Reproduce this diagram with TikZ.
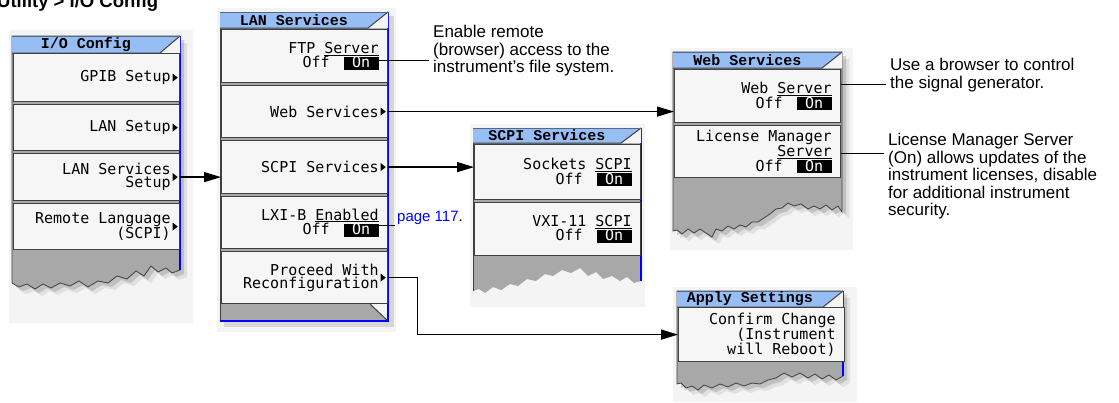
\documentclass[tikz,border=0pt]{standalone}
\usepackage{fontspec}
\usepackage{xcolor}
\usetikzlibrary{arrows.meta,calc}

\newfontfamily\notefont{Liberation Sans}
\newfontfamily\keyfont{DejaVu Sans Mono}
\newfontfamily\barfont{Liberation Mono}

\definecolor{barblue}{RGB}{150,190,245}
\definecolor{bodygrey}{RGB}{168,168,168}
\definecolor{keyfill}{RGB}{246,246,246}
\definecolor{keyedge}{RGB}{64,64,64}
\definecolor{bglight}{RGB}{244,244,244}
\definecolor{edgeblue}{RGB}{0,0,255}
\definecolor{linkblue}{RGB}{0,0,255}

\lineskiplimit=-20pt

\newcommand{\onsw}{{\setlength{\fboxsep}{0pt}\colorbox{black}{\makebox[35pt]{\rule[-2pt]{0pt}{13pt}\textcolor{white}{On}}}}}

\newcommand{\menubar}[6]{%
    \fill[barblue] (#2,#3) -- (#4,#3) -- (#4-20,#5) -- (#2,#5) -- cycle;
    \fill[bglight] (#4,#3) -- (#4,#5) -- (#4-20,#5) -- cycle;
    \draw[keyedge, line width=1pt] (#2,#5) -- (#4-20,#5) -- (#4,#3);
    \draw[barblue!55!black, line width=1pt] (#2,#3) -- (#4,#3);
    \node[bartext] (#1) at ({(#2+#4-20)/2},{(#3+#5)/2}) {#6};
}

\tikzset{
    keybox/.style={draw=keyedge, line width=1.2pt, fill=keyfill, anchor=north west,
        text width=148pt, inner xsep=9pt, inner ysep=0pt, align=right,
        font=\keyfont\fontsize{15}{13}\selectfont,
        execute at begin node={\spaceskip=9.03pt\relax}},
    bartext/.style={font=\barfont\bfseries\fontsize{15}{15}\selectfont, inner sep=0pt},
    note/.style={font=\notefont\fontsize{17}{17.5}\selectfont, align=left,
        anchor=north west, inner xsep=4pt, inner ysep=0pt},
    link/.style={line width=1.4pt, -{Triangle[length=17pt,width=10pt]}},
    leader/.style={line width=1.4pt},
    blueedge/.style={draw=edgeblue, line width=2pt},
}

\begin{document}
\begin{tikzpicture}[x=1pt, y=-1pt]
    \useasboundingbox (0,0) rectangle (1119,402);

    \foreach \a/\b/\c/\d in {9/30/193/323, 217/8/396/332, 470/124/645/307, 670/48/853/250, 673/287/857/402}
        \fill[bglight] (\a,\b) rectangle (\c,\d);

    \node[anchor=base west, inner sep=0pt, font=\notefont\bfseries\fontsize{18.5}{18.5}\selectfont] (crumb) at (-3,7.5) {Utility > I/O Config};

    % I/O Config
    \foreach \d/\c/\op/\e in {7/black/.08/none, 4/black/.14/none, 0/bodygrey/1/keyedge}
        \filldraw[fill=\c, fill opacity=\op, draw=\e, line width=.8pt, shift={(\d,\d)}]
            (12,36) -- (180,36) -- (180,270) -- (172,273) -- (166,268) -- (158,272) -- (151,266)
            -- (144,276) -- (136,271) -- (127,279) -- (117,276) -- (108,283) -- (98,281) -- (88,287)
            -- (79,281) -- (70,286) -- (60,283) -- (51,288) -- (43,284) -- (35,289) -- (27,284)
            -- (19,287) -- (12,283) -- cycle;
    \draw[blueedge] (180,36) -- (180,270);
    \menubar{iotitle}{12}{36}{180}{53}{I/O Config}

    % LAN Services
    \fill[black, opacity=.12] (224,16) rectangle (394,327);
    \filldraw[fill=bodygrey, draw=keyedge, line width=.8pt] (220,12) rectangle (388,321);
    \fill[bglight] (370,304) -- (388,304) -- (388,321) -- cycle;
    \draw[keyedge, line width=1pt] (370,304) -- (388,321);
    \draw[blueedge] (220,321) -- (388,321) -- (388,12);
    \menubar{lantitle}{220}{12}{388}{28}{LAN Services}

    % SCPI Services
    \filldraw[fill=bodygrey, draw=none]
        (473,128) -- (641,128) -- (641,281) -- (634,283) -- (627,277) -- (620,281) -- (612,276)
        -- (603,279) -- (596,272) -- (588,276) -- (580,268) -- (571,273) -- (562,270) -- (553,276)
        -- (545,274) -- (536,281) -- (527,279) -- (518,286) -- (510,284) -- (501,290) -- (493,287)
        -- (485,293) -- (479,289) -- (473,291) -- cycle;
    \draw[keyedge, line width=.8pt] (473,128) -- (473,291);
    \draw[blueedge] (641,128) -- (641,281);
    \menubar{scpititle}{473}{128}{641}{143}{SCPI Services}

    % Web Services
    \foreach \d/\c/\op/\e in {7/black/.08/none, 4/black/.14/none, 0/bodygrey/1/keyedge}
        \filldraw[fill=\c, fill opacity=\op, draw=\e, line width=.8pt, shift={(\d,\d)}]
            (673,52) -- (842,52) -- (842,212) -- (838,206) -- (832,210) -- (826,205) -- (820,209)
            -- (814,206) -- (808,209) -- (801,204) -- (794,206) -- (788,203) -- (782,208) -- (776,209)
            -- (770,214) -- (764,218) -- (758,222) -- (752,222) -- (746,227) -- (740,225) -- (734,229)
            -- (728,226) -- (722,231) -- (716,229) -- (712,237) -- (706,233) -- (700,229) -- (694,233)
            -- (688,229) -- (682,234) -- (677,230) -- (673,231) -- cycle;
    \menubar{webtitle}{673}{52}{842}{68}{Web Services}

    % Apply Settings
    \foreach \d/\c/\op/\e in {7/black/.08/none, 4/black/.14/none, 0/bodygrey/1/keyedge}
        \filldraw[fill=\c, fill opacity=\op, draw=\e, line width=.8pt, shift={(\d,\d)}]
            (677,291) -- (843,291) -- (843,376) -- (836,380) -- (829,375) -- (822,379) -- (815,374)
            -- (808,378) -- (800,373) -- (792,377) -- (784,373) -- (776,378) -- (768,380) -- (760,384)
            -- (752,383) -- (744,386) -- (736,383) -- (728,387) -- (720,384) -- (712,388) -- (704,385)
            -- (698,390) -- (692,386) -- (686,388) -- (681,383) -- (677,384) -- cycle;
    \draw[blueedge] (843,291) -- (843,376);
    \menubar{applytitle}{677}{291}{843}{307}{Apply Settings}

    \node[keybox, minimum height=48pt] (gpib) at (13,53) {GPIB Setup};
    \node[keybox, minimum height=46pt] (lanset) at (13,104) {LAN Setup};
    \node[keybox, minimum height=47pt] (lansvc) at (13,153) {LAN Services\\Setup};
    \node[keybox, minimum height=46pt] (remote) at (13,203) {Remote Language\\(SCPI)};

    \node[keybox, minimum height=53pt] (ftp) at (221,29) {FTP \underline{Server}\\Off\hspace{14pt}\onsw};
    \node[keybox, minimum height=52pt] (websvc) at (221,85) {Web Services};
    \node[keybox, minimum height=53pt] (scpisvc) at (221,140) {SCPI Services};
    \node[keybox, minimum height=52pt] (lxi) at (221,196) {LXI-B \underline{Enabled}\\Off\hspace{14pt}\onsw};
    \node[keybox, minimum height=52pt] (proceed) at (221,251) {Proceed With\\Reconfiguration};

    \node[keybox, minimum height=55pt] (sockets) at (474,144) {Sockets \underline{SCPI}\\Off\hspace{14pt}\onsw};
    \node[keybox, minimum height=53pt] (vxi) at (474,202) {VXI-11 \underline{SCPI}\\Off\hspace{14pt}\onsw};

    \node[keybox, minimum height=53pt] (websrv) at (674,69) {Web \underline{Server}\\Off\hspace{14pt}\onsw};
    \node[keybox, minimum height=52pt] (license) at (674,125) {License Manager\\\underline{Server}\\Off\hspace{14pt}\onsw};

    \node[keybox, minimum height=54pt] (confirm) at (678,307) {Confirm Change\\(Instrument\\will Reboot)};

    \foreach \k in {gpib,lanset,lansvc,remote,websvc,scpisvc,proceed}
        \fill ($(\k.east)+(-7.5,-4)$) -- ++(0,8) -- ++(5,-4) -- cycle;

    \node[note] (enable) at (429,25) {Enable remote\\(browser) access to the\\instrument’s file system.};
    \node[note, anchor=west, inner xsep=2pt, font=\notefont\fontsize{15}{15}\selectfont] (page) at (395,218) {\textcolor{linkblue}{page 117}.};
    \node[note] (browser) at (886,58) {Use a browser to control\\the signal generator.};
    \node[note] (licnote) at (884,133) {License Manager Server\\(On) allows updates of the\\instrument licenses, disable\\for additional instrument\\security.};

    \draw[link] (lansvc.east) -- (lansvc.east -| ftp.west);
    \draw[link] (websvc.east) -- (websvc.east -| websrv.west);
    \draw[link] (scpisvc.east) -- (scpisvc.east -| sockets.west);
    \draw[link] (proceed.east) -- ++(29,0) |- (confirm.west);

    \coordinate (ftpon) at ($(ftp.east)+(-9,4.5)$);
    \draw[leader] (ftpon) -- (ftpon -| enable.west);
    \coordinate (lxion) at ($(lxi.east)+(-9,3)$);
    \draw[leader] (lxion) -- (lxion -| page.west);
    \coordinate (srvon) at ($(websrv.east)+(0,-11.5)$);
    \draw[leader] (srvon) -- (srvon -| browser.west);
    \coordinate (licon) at ($(license.east)+(0,2)$);
    \draw[leader] (licon) -- (licon -| licnote.west);
\end{tikzpicture}
\end{document}
